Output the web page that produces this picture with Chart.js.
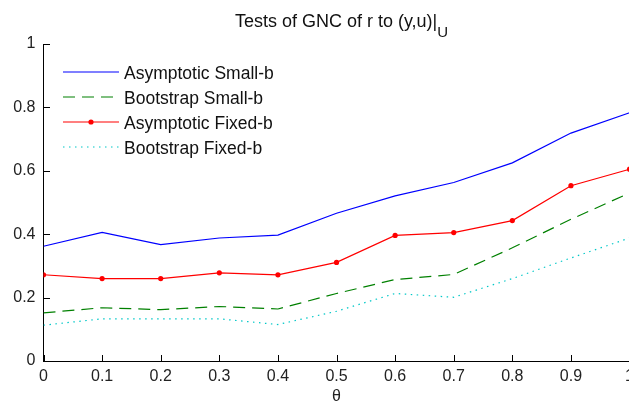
<!DOCTYPE html>
<html>
<head>
<meta charset="utf-8">
<script src="https://cdn.jsdelivr.net/npm/chart.js@4.4.1/dist/chart.umd.min.js"></script>
<style>
	html, body { margin: 0; padding: 0; background: #fff; overflow: hidden; width: 629px; height: 408px; }
	#wrap { position: absolute; left: 0; top: 0; width: 640px; height: 408px; }
</style>
</head>
<body>
<div id="wrap"><canvas id="chart" width="640" height="408"></canvas></div>
<script>
	// values
	var theta = [0, 0.1, 0.2, 0.3, 0.4, 0.5, 0.6, 0.7, 0.8, 0.9, 1];
	var asymSmall = [0.362, 0.406, 0.367, 0.388, 0.397, 0.466, 0.521, 0.563, 0.625, 0.719, 0.783];
	var bootSmall = [0.152, 0.168, 0.162, 0.172, 0.164, 0.213, 0.257, 0.273, 0.357, 0.447, 0.530];
	var asymFixed = [0.272, 0.260, 0.260, 0.278, 0.272, 0.311, 0.396, 0.405, 0.443, 0.553, 0.605];
	var bootFixed = [0.113, 0.133, 0.133, 0.133, 0.115, 0.157, 0.213, 0.201, 0.260, 0.325, 0.388];
	var yTicks = [0, 0.2, 0.4, 0.6, 0.8, 1];

	var FONT = '"Liberation Sans", Arial, sans-serif';

	function pts(arr) {
		return theta.map(function(t, i) { return {x: t, y: arr[i]}; });
	}

	// title with the subscript U
	var titlePlugin = {
		id: 'titleSub',
		afterDraw: function(chart) {
			var ctx = chart.ctx;
			var main = 'Tests of GNC of r to (y,u)|';
			ctx.save();
			ctx.fillStyle = '#111';
			ctx.textBaseline = 'alphabetic';
			ctx.font = '18px ' + FONT;
			var w = ctx.measureText(main).width;
			ctx.font = '15px ' + FONT;
			var ws = ctx.measureText('U').width;
			var x0 = 341.5 - (w + ws) / 2;
			ctx.font = '18px ' + FONT;
			ctx.fillText(main, x0, 27);
			ctx.font = '15px ' + FONT;
			ctx.fillText('U', x0 + w, 37);
			ctx.restore();
		}
	};

	// MATLAB style ticks pointing into the axes
	var innerTicks = {
		id: 'innerTicks',
		afterDraw: function(chart) {
			var ctx = chart.ctx;
			var xs = chart.scales.x, ys = chart.scales.y;
			var area = chart.chartArea;
			ctx.save();
			ctx.strokeStyle = '#000';
			ctx.lineWidth = 1;
			ctx.beginPath();
			theta.forEach(function(t) {
				var px = Math.round(xs.getPixelForValue(t)) + 0.5;
				ctx.moveTo(px, Math.round(area.bottom));
				ctx.lineTo(px, Math.round(area.bottom) - 6);
			});
			yTicks.forEach(function(v) {
				var py = Math.round(ys.getPixelForValue(v)) + 0.5;
				ctx.moveTo(Math.round(area.left), py);
				ctx.lineTo(Math.round(area.left) + 6, py);
			});
			ctx.stroke();
			ctx.restore();
		}
	};

	// legend inside the axes, no box
	var legendPlugin = {
		id: 'insideLegend',
		afterDraw: function(chart) {
			var ctx = chart.ctx;
			ctx.save();
			chart.data.datasets.forEach(function(ds, i) {
				var y = 72 + i * 25;
				ctx.strokeStyle = ds.borderColor;
				ctx.lineWidth = ds.borderWidth;
				ctx.setLineDash(ds.borderDash || []);
				ctx.beginPath();
				ctx.moveTo(63, y);
				ctx.lineTo(119, y);
				ctx.stroke();
				ctx.setLineDash([]);
				if(ds.pointRadius > 0) {
					ctx.fillStyle = ds.pointBackgroundColor;
					ctx.beginPath();
					ctx.arc(91, y, ds.pointRadius, 0, Math.PI * 2);
					ctx.fill();
				}
				ctx.fillStyle = '#111';
				ctx.font = '17.5px ' + FONT;
				ctx.textBaseline = 'alphabetic';
				ctx.fillText(ds.label, 124, y + 7);
			});
			ctx.restore();
		}
	};

	new Chart(document.getElementById('chart'), {
		type: 'line',
		data: {
			datasets: [{
				label: 'Asymptotic Small-b',
				data: pts(asymSmall),
				borderColor: '#0000ff',
				borderWidth: 1.2,
				pointRadius: 0
			}, {
				label: 'Bootstrap Small-b',
				data: pts(bootSmall),
				borderColor: '#008000',
				borderWidth: 1.2,
				borderDash: [12, 7],
				pointRadius: 0
			}, {
				label: 'Asymptotic Fixed-b',
				data: pts(asymFixed),
				borderColor: '#ff0000',
				borderWidth: 1.2,
				pointRadius: 2.6,
				pointStyle: 'circle',
				pointBackgroundColor: '#ff0000',
				pointBorderColor: '#ff0000',
				pointBorderWidth: 0
			}, {
				label: 'Bootstrap Fixed-b',
				data: pts(bootFixed),
				borderColor: '#00c8c8',
				borderWidth: 1.2,
				borderDash: [1.5, 4.5],
				pointRadius: 0
			}]
		},
		options: {
			responsive: false,
			animation: false,
			devicePixelRatio: 1,
			layout: {padding: {left: 0, right: 8.5, top: 44, bottom: 0}},
			elements: {line: {tension: 0}},
			plugins: {legend: {display: false}, title: {display: false}, tooltip: {enabled: false}},
			scales: {
				x: {
					type: 'linear',
					min: 0,
					max: 1,
					afterFit: function(scale) { scale.height = 47; },
					afterBuildTicks: function(scale) {
						scale.ticks = theta.map(function(v) { return {value: v}; });
					},
					grid: {display: false, drawTicks: false},
					border: {display: true, color: '#000', width: 1},
					ticks: {
						padding: 6,
						color: '#222',
						font: {family: FONT, size: 16},
						maxRotation: 0,
						autoSkip: false,
						callback: function(v) { return String(Number(v.toFixed(1))); }
					},
					title: {
						display: true,
						text: 'θ',
						color: '#222',
						font: {family: FONT, size: 16},
						padding: {top: 2, bottom: 2}
					}
				},
				y: {
					type: 'linear',
					min: 0,
					max: 1,
					afterFit: function(scale) { scale.width = 43.5; },
					afterBuildTicks: function(scale) {
						scale.ticks = yTicks.map(function(v) { return {value: v}; });
					},
					grid: {display: false, drawTicks: false},
					border: {display: true, color: '#000', width: 1},
					ticks: {
						padding: 8,
						color: '#222',
						font: {family: FONT, size: 16},
						callback: function(v) { return String(Number(v.toFixed(1))); }
					}
				}
			}
		},
		plugins: [titlePlugin, innerTicks, legendPlugin]
	});
</script>
</body>
</html>
